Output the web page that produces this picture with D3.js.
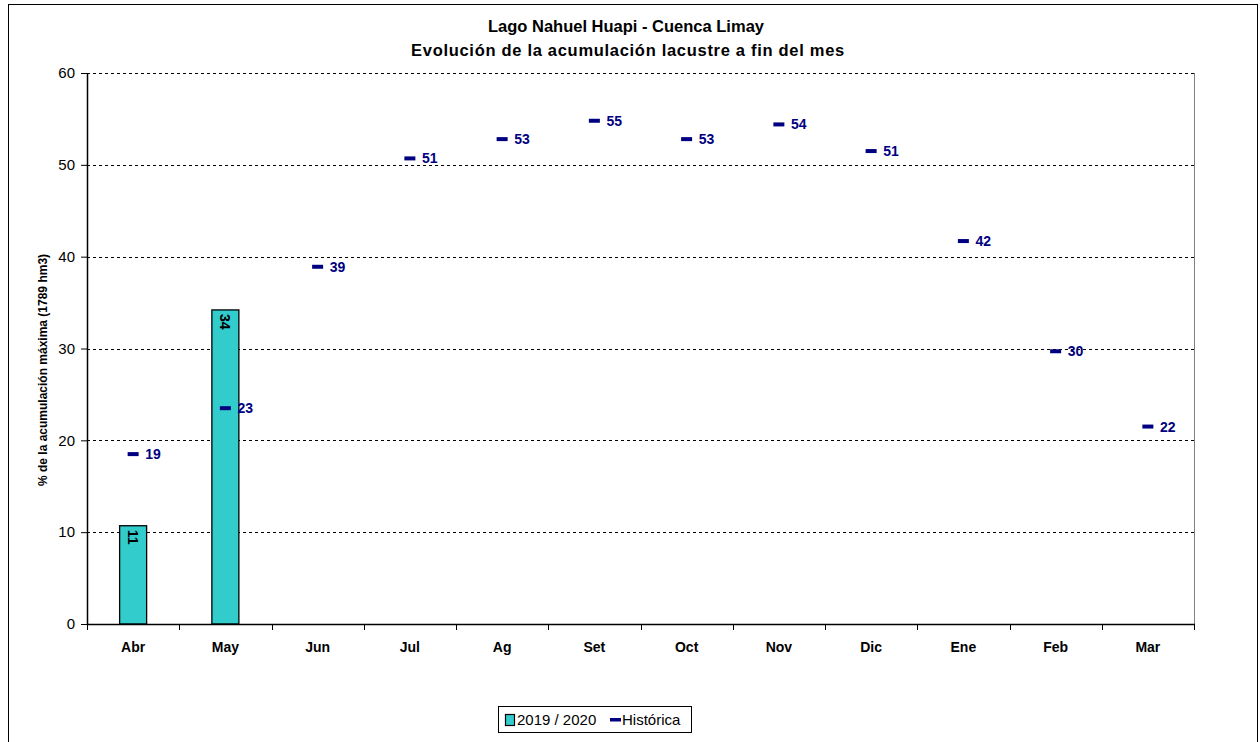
<!DOCTYPE html>
<html><head><meta charset="utf-8">
<script src="https://cdn.jsdelivr.net/npm/d3@7"></script>
<style>body{margin:0;background:#fff}svg{display:block}text{font-family:"Liberation Sans",Arial,sans-serif}</style>
</head><body><svg id="c" width="1260" height="742"></svg>
<script>
const months = ["Abr","May","Jun","Jul","Ag","Set","Oct","Nov","Dic","Ene","Feb","Mar"];
const actual = [10.7, 34.2, null, null, null, null, null, null, null, null, null, null];
const actualLabels = ["11","34"];
const historica = [18.5, 23.5, 38.9, 50.7, 52.8, 54.8, 52.8, 54.4, 51.5, 41.7, 29.7, 21.5];
const historicaLabels = ["19","23","39","51","53","55","53","54","51","42","30","22"];
const yTicks = [0,10,20,30,40,50,60];
const title = ["Lago Nahuel Huapi - Cuenca Limay","Evolución de la acumulación lacustre a fin del mes"];
const yTitle = "% de la acumulación máxima (1789 hm3)";
const legendItems = ["2019 / 2020","Histórica"];

const svg = d3.select("#c");
const M = {l:87, r:1194, t:73, b:624};
const x = d3.scaleBand().domain(months).range([M.l, M.r]);
const y = d3.scaleLinear().domain([0,60]).range([M.b, M.t]);
const teal = "#33CCCC", navy = "#000080";

// outer border
svg.append("rect").attr("x",8.5).attr("y",4.5).attr("width",1249).attr("height",760)
  .attr("fill","none").attr("stroke","#000").attr("stroke-width",1);

// titles
svg.append("text").attr("x",626).attr("y",32).attr("text-anchor","middle")
  .attr("font-size",16.5).attr("font-weight","bold").text(title[0]);
svg.append("text").attr("x",628).attr("y",56).attr("text-anchor","middle")
  .attr("font-size",16.5).attr("font-weight","bold").attr("letter-spacing",0.7).text(title[1]);

// grid
svg.append("g").selectAll("line").data(yTicks.filter(d=>d>0)).join("line")
  .attr("x1",M.l).attr("x2",M.r).attr("y1",d=>Math.round(y(d))+0.5).attr("y2",d=>Math.round(y(d))+0.5)
  .attr("stroke","#000").attr("stroke-dasharray","3,3").attr("stroke-width",1);

// right frame
svg.append("line").attr("x1",M.r+0.5).attr("x2",M.r+0.5).attr("y1",M.t).attr("y2",M.b)
  .attr("stroke","#808080").attr("stroke-width",1);

// y axis
const ya = svg.append("g").attr("transform",`translate(${M.l},0)`)
  .call(d3.axisLeft(y).tickValues(yTicks).tickSize(6).tickSizeOuter(0).tickPadding(6));
ya.select(".domain").attr("stroke","#000").attr("stroke-width",1.5);
ya.selectAll(".tick line").attr("stroke","#000");
ya.selectAll(".tick text").attr("font-size",15).attr("fill","#000").attr("font-family","Liberation Sans, Arial, sans-serif");

// bars
svg.append("g").selectAll("rect").data(months.map((m,i)=>({m,v:actual[i],i})).filter(d=>d.v!=null)).join("rect")
  .attr("x",d=>x(d.m)+x.bandwidth()/2-13.5).attr("width",27)
  .attr("y",d=>y(d.v)).attr("height",d=>y(0)-y(d.v))
  .attr("fill",teal).attr("stroke","#000").attr("stroke-width",1.3);
svg.append("g").selectAll("text").data(months.map((m,i)=>({m,v:actual[i],i})).filter(d=>d.v!=null)).join("text")
  .attr("transform",d=>`translate(${x(d.m)+x.bandwidth()/2-5},${y(d.v)+4}) rotate(90)`)
  .attr("font-size",14).attr("font-weight","bold").attr("fill","#000")
  .text(d=>actualLabels[d.i]);

// x axis
const xa = svg.append("g").attr("transform",`translate(0,${M.b})`)
  .call(d3.axisBottom(x).tickSize(0).tickPadding(18));
xa.select(".domain").remove();
svg.append("line").attr("x1",M.l).attr("x2",M.r+1).attr("y1",M.b+0.5).attr("y2",M.b+0.5).attr("stroke","#000").attr("stroke-width",1.5);
const tickPos = months.map(m=>x(m)).concat([M.r]);
svg.append("g").selectAll("line").data(tickPos).join("line")
  .attr("x1",d=>Math.round(d)+0.5).attr("x2",d=>Math.round(d)+0.5).attr("y1",M.b).attr("y2",M.b+6)
  .attr("stroke","#000");
xa.selectAll(".tick text").attr("font-size",14).attr("font-weight","bold").attr("fill","#000")
  .attr("font-family","Liberation Sans, Arial, sans-serif");

// historica markers
const hg = svg.append("g");
hg.selectAll("rect").data(months.map((m,i)=>({m,v:historica[i],i}))).join("rect")
  .attr("x",d=>x(d.m)+x.bandwidth()/2-5.5).attr("width",11)
  .attr("y",d=>y(d.v)-2).attr("height",4).attr("fill",navy);
hg.selectAll("text").data(months.map((m,i)=>({m,v:historica[i],i}))).join("text")
  .attr("x",d=>x(d.m)+x.bandwidth()/2+12).attr("y",d=>y(d.v)+5)
  .attr("font-size",14).attr("font-weight","bold").attr("fill",navy)
  .text(d=>historicaLabels[d.i]);

// y title
svg.append("text").attr("transform",`translate(47,370) rotate(-90)`).attr("text-anchor","middle")
  .attr("font-size",12).attr("font-weight","bold").text(yTitle);

// legend
const lg = svg.append("g");
lg.append("rect").attr("x",498.5).attr("y",706.5).attr("width",193).attr("height",26).attr("fill","#fff").attr("stroke","#000");
lg.append("rect").attr("x",505.5).attr("y",714.5).attr("width",9).attr("height",11).attr("fill",teal).attr("stroke","#000").attr("stroke-width",1.2);
lg.append("text").attr("x",517).attr("y",725).attr("font-size",15).text(legendItems[0]);
lg.append("rect").attr("x",610).attr("y",718).attr("width",11).attr("height",3.5).attr("fill",navy);
lg.append("text").attr("x",622).attr("y",725).attr("font-size",15).text(legendItems[1]);
</script></body></html>
